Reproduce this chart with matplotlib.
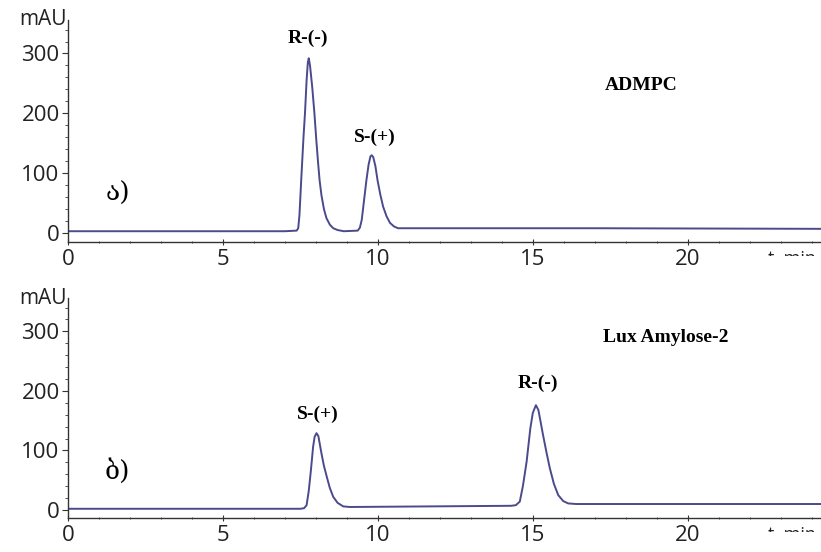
'''
Chiral HPLC chromatograms of the two enantiomers
on ADMPC and Lux Amylose-2 columns
'''

import matplotlib
matplotlib.use('Agg')
import matplotlib.pyplot as plt
from matplotlib.ticker import MultipleLocator
from matplotlib.transforms import Bbox, TransformedBbox

# ADMPC trace (time in min, signal in mAU)
admpc_time = [0.0, 7.0, 7.38, 7.43, 7.47, 7.53, 7.60, 7.65, 7.70, 7.74, 7.77, 7.81,
              7.88, 7.95, 8.01, 8.07, 8.12, 8.18, 8.26, 8.34, 8.45, 8.56, 8.70, 8.90,
              9.35, 9.42, 9.48, 9.53, 9.58, 9.63, 9.70, 9.76, 9.80, 9.85, 9.92, 9.99,
              10.08, 10.17, 10.28, 10.39, 10.52, 10.65, 10.9, 17.0, 24.3]
admpc_signal = [3, 3, 4, 8, 30, 92, 160, 202, 255, 285, 292, 280,
                245, 202, 158, 118, 88, 63, 40, 25, 14, 8, 5, 3,
                4, 9, 22, 44, 66, 88, 114, 128, 130, 127, 112, 88,
                64, 44, 28, 17, 11, 8, 8, 8, 7]

# Lux Amylose-2 trace
lux_time = [0.0, 7.5, 7.62, 7.70, 7.77, 7.84, 7.91, 7.96, 8.02, 8.08, 8.18, 8.26,
            8.35, 8.45, 8.56, 8.70, 8.88, 9.1, 14.3, 14.45, 14.58, 14.68, 14.80,
            14.92, 15.00, 15.10, 15.18, 15.33, 15.44, 15.55, 15.68, 15.82, 15.98,
            16.14, 16.4, 24.3]
lux_signal = [2, 2, 3, 8, 32, 67, 106, 123, 129, 124, 95, 74,
              56, 37, 22, 12, 6, 5, 7, 8, 14, 40, 81,
              137, 163, 176, 168, 126, 97, 70, 44, 25, 15,
              11, 10, 10]

x_ticks = [0, 5, 10, 15, 20]
y_ticks = [0, 100, 200, 300]

TRACE_COLOR = '#4a4a8c'
AXIS_COLOR = '#333333'
TICK_FONT = 'Open Sans'
LABEL_FONT = 'Liberation Serif'
GEO_FONT = 'DejaVu Serif'


def style_axis(ax, ymin):
	for side in ['top', 'right']:
		ax.spines[side].set_visible(False)
	for side in ['left', 'bottom']:
		ax.spines[side].set_color(AXIS_COLOR)
		ax.spines[side].set_linewidth(1.0)
	ax.set_xlim(0, 24.3)
	ax.set_ylim(ymin, 356)
	ax.set_xticks(x_ticks)
	ax.set_yticks(y_ticks)
	ax.xaxis.set_minor_locator(MultipleLocator(1))
	ax.yaxis.set_minor_locator(MultipleLocator(20))
	ax.tick_params(axis='both', which='major', length=4, width=0.8, color=AXIS_COLOR,
				   labelsize=16, labelcolor='#222222')
	ax.tick_params(axis='both', which='minor', length=2, width=0.6, color=AXIS_COLOR)
	ax.tick_params(axis='x', which='both', direction='inout', pad=3)
	ax.tick_params(axis='y', which='major', pad=2)
	for lab in ax.get_xticklabels() + ax.get_yticklabels():
		lab.set_fontfamily(TICK_FONT)
	ax.text(-0.002, 1.0, 'mAU', transform=ax.transAxes, ha='right', va='center',
			fontsize=15, family=TICK_FONT, color='#222222')


def draw_trace(ax, t, v):
	ax.plot(t, v, color=TRACE_COLOR, linewidth=1.4, solid_joinstyle='round')


def time_label(fig, y):
	# the 't, min' label is cut by the panel below, only its top shows
	txt = fig.text(0.935, y, 't, min', fontsize=13, family=TICK_FONT,
				   color='#222222', va='top', ha='left')
	box = TransformedBbox(Bbox([[0.9, y - 0.012], [1.0, y + 0.01]]), fig.transFigure)
	txt.set_clip_box(box)
	txt.set_clip_on(True)


fig = plt.figure(figsize=(8.21, 5.52), dpi=100)
ax_top = fig.add_axes([0.0828, 0.5616, 0.9172, 0.4022])
ax_bot = fig.add_axes([0.0828, 0.0616, 0.9172, 0.3985])

# Top: ADMPC
draw_trace(ax_top, admpc_time, admpc_signal)
style_axis(ax_top, -15)
ax_top.text(7.74, 325, 'R-(-)', ha='center', va='center', fontsize=14,
			fontweight='bold', family=LABEL_FONT)
ax_top.text(9.9, 160, 'S-(+)', ha='center', va='center', fontsize=14,
			fontweight='bold', family=LABEL_FONT)
ax_top.text(18.5, 247, 'ADMPC', ha='center', va='center', fontsize=14,
			fontweight='bold', family=LABEL_FONT)
ax_top.text(1.6, 66, 'ა)', ha='center', va='center', fontsize=19, family=GEO_FONT)

# Bottom: Lux Amylose-2
draw_trace(ax_bot, lux_time, lux_signal)
style_axis(ax_bot, -13.5)
ax_bot.text(8.06, 161, 'S-(+)', ha='center', va='center', fontsize=14,
			fontweight='bold', family=LABEL_FONT)
ax_bot.text(15.16, 213, 'R-(-)', ha='center', va='center', fontsize=14,
			fontweight='bold', family=LABEL_FONT)
ax_bot.text(19.3, 289, 'Lux Amylose-2', ha='center', va='center', fontsize=14,
			fontweight='bold', family=LABEL_FONT)
ax_bot.text(1.6, 66, 'ბ)', ha='center', va='center', fontsize=19, family=GEO_FONT)

time_label(fig, 0.548)
time_label(fig, 0.048)

fig.savefig('out.png', dpi=100)
